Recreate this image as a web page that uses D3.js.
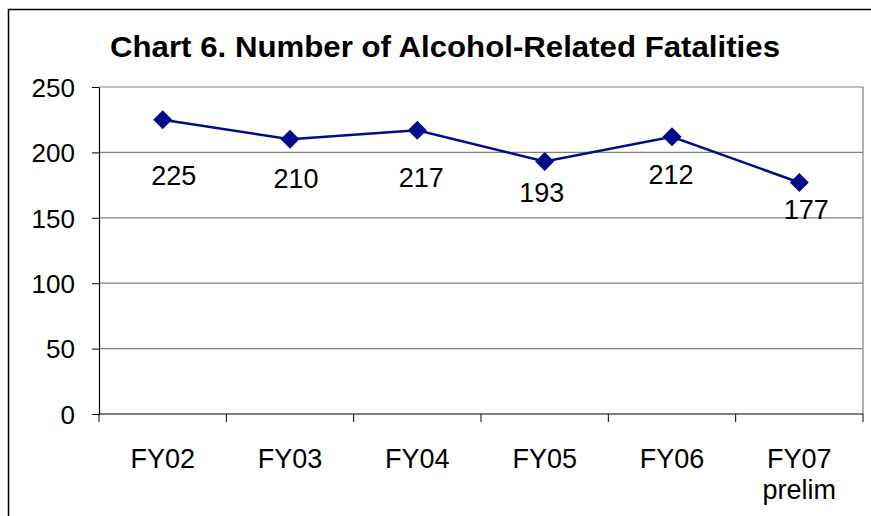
<!DOCTYPE html>
<meta charset="utf-8">
<style>
body { margin: 0; background: #fff; }
svg { display: block; font-family: "Liberation Sans", Arial, sans-serif; }
.grid line { stroke: #808080; stroke-width: 1.2px; }
</style>
<body></body>
<script src="https://cdnjs.cloudflare.com/ajax/libs/d3/7.8.5/d3.min.js"></script>
<script>

// data
var categories = ["FY02", "FY03", "FY04", "FY05", "FY06", "FY07\nprelim"];
var fatalities = [225, 210, 217, 193, 212, 177];
var yTicks = [0, 50, 100, 150, 200, 250];
var title = "Chart 6. Number of Alcohol-Related Fatalities";

// label nudges (Excel put the labels by hand, roughly below each point)
var labelNudge = [[11, 65], [6, 49], [4, 57], [-3, 40], [-1, 47], [7, 37]];

var width = 871, height = 516;
var plot = {left: 99, right: 863, top: 87, bottom: 414};

var svg = d3.select("body").append("svg")
    .attr("width", width)
    .attr("height", height);

// outer chart border
svg.append("rect")
    .attr("x", 8.5).attr("y", 9.5)
    .attr("width", 880).attr("height", 530)
    .attr("fill", "none")
    .attr("stroke", "#000")
    .attr("stroke-width", 1.5);

var x = d3.scaleBand()
    .domain(d3.range(categories.length))
    .range([plot.left, plot.right]);

var y = d3.scaleLinear()
    .domain([0, 250])
    .range([plot.bottom, plot.top]);

// title
var t = svg.append("text")
    .attr("x", 445)
    .attr("y", 57)
    .attr("text-anchor", "middle")
    .attr("font-size", 30)
    .attr("font-weight", "bold")
    .text(title);
t.attr("textLength", 670).attr("lengthAdjust", "spacingAndGlyphs");

// gridlines
svg.append("g")
    .attr("class", "grid")
  .selectAll("line")
  .data(yTicks.filter(function(d) { return d > 0; }))
  .enter().append("line")
    .attr("x1", plot.left).attr("x2", plot.right)
    .attr("y1", function(d) { return y(d); })
    .attr("y2", function(d) { return y(d); });

// right edge of plot area
svg.append("line")
    .attr("x1", plot.right).attr("x2", plot.right)
    .attr("y1", plot.top).attr("y2", plot.bottom)
    .attr("stroke", "#808080").attr("stroke-width", 1.2);

// y axis
var yAxis = svg.append("g")
    .attr("transform", "translate(" + plot.left + ",0)")
    .call(d3.axisLeft(y).tickValues(yTicks).tickSize(7).tickPadding(17).tickSizeOuter(0));
yAxis.select(".domain").attr("stroke", "#000").attr("stroke-width", 1.2);
yAxis.selectAll(".tick line").attr("stroke", "#000");
yAxis.selectAll(".tick text")
    .attr("font-size", 26)
    .attr("font-family", "Liberation Sans, Arial, sans-serif")
    .attr("fill", "#000")
    .attr("dy", "0.36em");

// x axis: ticks at band edges
var edges = d3.range(categories.length + 1).map(function(i) {
  return plot.left + i * x.step();
});
svg.append("line")
    .attr("x1", plot.left).attr("x2", plot.right)
    .attr("y1", plot.bottom).attr("y2", plot.bottom)
    .attr("stroke", "#000").attr("stroke-width", 1.2);
svg.append("g")
  .selectAll("line")
  .data(edges)
  .enter().append("line")
    .attr("x1", function(d) { return d; })
    .attr("x2", function(d) { return d; })
    .attr("y1", plot.bottom)
    .attr("y2", plot.bottom + 8)
    .attr("stroke", "#000");

var xl = svg.append("g")
  .selectAll("text")
  .data(categories)
  .enter().append("text")
    .attr("x", function(d, i) { return x(i) + x.bandwidth() / 2; })
    .attr("y", 468)
    .attr("text-anchor", "middle")
    .attr("font-size", 27);
xl.each(function(d) {
  var el = d3.select(this);
  d.split("\n").forEach(function(s, j) {
    el.append("tspan")
      .attr("x", el.attr("x"))
      .attr("dy", j === 0 ? 0 : 31)
      .text(s);
  });
});

// line + markers
var cx = function(d, i) { return x(i) + x.bandwidth() / 2; };
var line = d3.line()
    .x(function(d, i) { return cx(d, i); })
    .y(function(d) { return y(d); });

svg.append("path")
    .datum(fatalities)
    .attr("d", line)
    .attr("fill", "none")
    .attr("stroke", "#000c8c")
    .attr("stroke-width", 2.5);

svg.append("g")
  .selectAll("path")
  .data(fatalities)
  .enter().append("path")
    .attr("d", "M0,-9.5L9.5,0L0,9.5L-9.5,0Z")
    .attr("transform", function(d, i) { return "translate(" + cx(d, i) + "," + y(d) + ")"; })
    .attr("fill", "#000c8c");

// data labels
svg.append("g")
  .selectAll("text")
  .data(fatalities)
  .enter().append("text")
    .attr("x", function(d, i) { return cx(d, i) + labelNudge[i][0]; })
    .attr("y", function(d, i) { return y(d) + labelNudge[i][1]; })
    .attr("text-anchor", "middle")
    .attr("font-size", 27)
    .text(function(d) { return d; });

</script>
